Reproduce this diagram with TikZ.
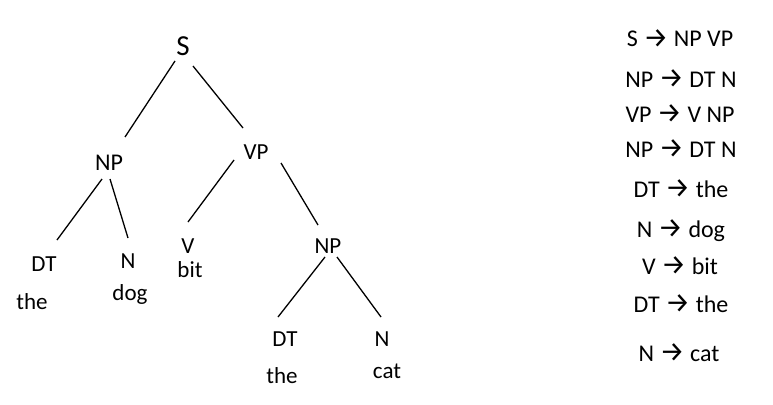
\documentclass[tikz,border=0pt]{standalone}
\usepackage{fontspec}
\setmainfont{Carlito}
\newfontfamily\arrowfont{Fira Sans}
\newcommand{\ra}{{\arrowfont\fontsize{28}{30}\selectfont\raisebox{-0.5pt}{\char"2192}}}
\begin{document}
\begin{tikzpicture}[x=1pt,y=-1pt,
  lbl/.style={anchor=base,inner sep=0pt,font=\fontsize{23}{26}\selectfont},
  big/.style={anchor=base,inner sep=0pt,font=\fontsize{29}{32}\selectfont},
  rule/.style={anchor=base,inner sep=0pt,font=\fontsize{24}{27}\selectfont},
  edge/.style={line width=1.3pt,black}]
\useasboundingbox (0,0) rectangle (773,404);
% tree nodes
\node[big] (S) at (183,56) {S};
\node[lbl,font=\fontsize{24}{27}\selectfont] (NP) at (109,170) {NP};
\node[lbl] (VP) at (256,159) {VP};
\node[lbl] (DT) at (44,271) {DT};
\node[lbl] (N) at (128,268) {N};
\node[lbl] (the) at (32,309) {the};
\node[lbl] (dog) at (130,300) {dog};
\node[lbl] (V) at (188,253) {V};
\node[lbl] (bit) at (190,277) {bit};
\node[lbl] (NPb) at (328,253) {NP};
\node[lbl] (DTb) at (285,346) {DT};
\node[lbl] (Nb) at (382,346) {N};
\node[lbl] (theb) at (282,383) {the};
\node[lbl] (cat) at (387,378) {cat};
% edges
\draw[edge] ([shift={(-8,5)}]S.base) -- ([shift={(16,-33)}]NP.base);
\draw[edge] ([shift={(10,10)}]S.base) -- ([shift={(-13,-31)}]VP.base);
\draw[edge] ([shift={(-7,9)}]NP.base) -- ([shift={(13,-31)}]DT.base);
\draw[edge] ([shift={(1,9)}]NP.base) -- ([shift={(0,-30)}]N.base);
\draw[edge] ([shift={(-22,1)}]VP.base) -- ([shift={(0,-31)}]V.base);
\draw[edge] ([shift={(25,4)}]VP.base) -- ([shift={(-10,-28)}]NPb.base);
\draw[edge] ([shift={(-3,4)}]NPb.base) -- ([shift={(-7,-29)}]DTb.base);
\draw[edge] ([shift={(9,4)}]NPb.base) -- ([shift={(-1,-29)}]Nb.base);
% rules
\node[rule] (r1) at (680,47) {S \ra{} NP VP};
\node[rule] (r2) at (681,87) {NP \ra{} DT N};
\node[rule] (r3) at (680,122) {VP \ra{} V NP};
\node[rule] (r4) at (681,157) {NP \ra{} DT N};
\node[rule] (r5) at (681,197) {DT \ra{} the};
\node[rule] (r6) at (681,237) {N \ra{} dog};
\node[rule] (r7) at (680,274) {V \ra{} bit};
\node[rule] (r8) at (681,312) {DT \ra{} the};
\node[rule] (r9) at (679,361) {N \ra{} cat};
\end{tikzpicture}
\end{document}
